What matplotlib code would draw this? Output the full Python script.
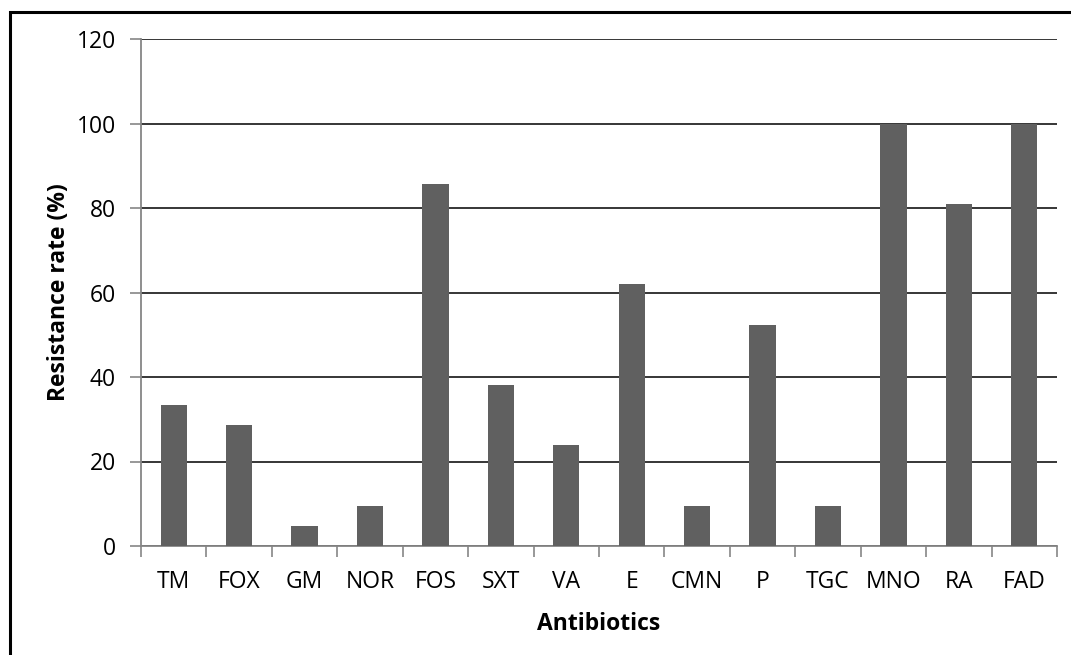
import matplotlib
matplotlib.use("Agg")
import matplotlib.pyplot as plt
from matplotlib.patches import Rectangle
import numpy as np

antibiotics = ["TM", "FOX", "GM", "NOR", "FOS", "SXT", "VA", "E", "CMN", "P",
               "TGC", "MNO", "RA", "FAD"]
resistance = [33.3, 28.6, 4.8, 9.5, 85.7, 38.1, 23.8, 61.9, 9.5, 52.4,
              9.5, 100.0, 81.0, 100.0]
yticks = [0, 20, 40, 60, 80, 100, 120]

plt.rcParams['font.family'] = ['Open Sans', 'DejaVu Sans']

W, H = 1071, 655
FS = 16.5
fig = plt.figure(figsize=(W / 100, H / 100), dpi=100)
ax = fig.add_axes([141 / W, 1 - 546 / H, (1057 - 141) / W, (546 - 39) / H])

x = np.arange(len(antibiotics))
ax.bar(x, resistance, width=0.4, color="#606060", zorder=3)

ax.set_xlim(-0.5, len(antibiotics) - 0.5)
ax.set_ylim(0, 120)
ax.set_yticks(yticks)
ax.set_yticklabels([str(v) for v in yticks], fontsize=FS)
ax.yaxis.grid(True, color="black", linewidth=1.1, zorder=1)
ax.set_xticks(x)
ax.set_xticklabels(antibiotics, fontsize=FS)
ax.set_xticks(np.arange(-0.5, len(antibiotics)), minor=True)
ax.tick_params(axis="x", which="major", length=0, pad=17)
ax.tick_params(axis="x", which="minor", length=8, color="#868686", width=1.2)
ax.tick_params(axis="y", length=8, color="#868686", width=1.2, pad=10)

for s in ["top", "right"]:
    ax.spines[s].set_visible(False)
for s in ["left", "bottom"]:
    ax.spines[s].set_color("#868686")
    ax.spines[s].set_linewidth(1.3)

ax.set_xlabel("Antibiotics", fontsize=FS, fontweight="bold", labelpad=13)
ax.set_ylabel("Resistance rate (%)", fontsize=FS, fontweight="bold", labelpad=4)

fig.patches.append(Rectangle((10 / W, -0.1), 1.2, 1 - 12 / H + 0.1,
                             transform=fig.transFigure, fill=False,
                             edgecolor="black", linewidth=2.2))

fig.savefig("out.png", dpi=100)
